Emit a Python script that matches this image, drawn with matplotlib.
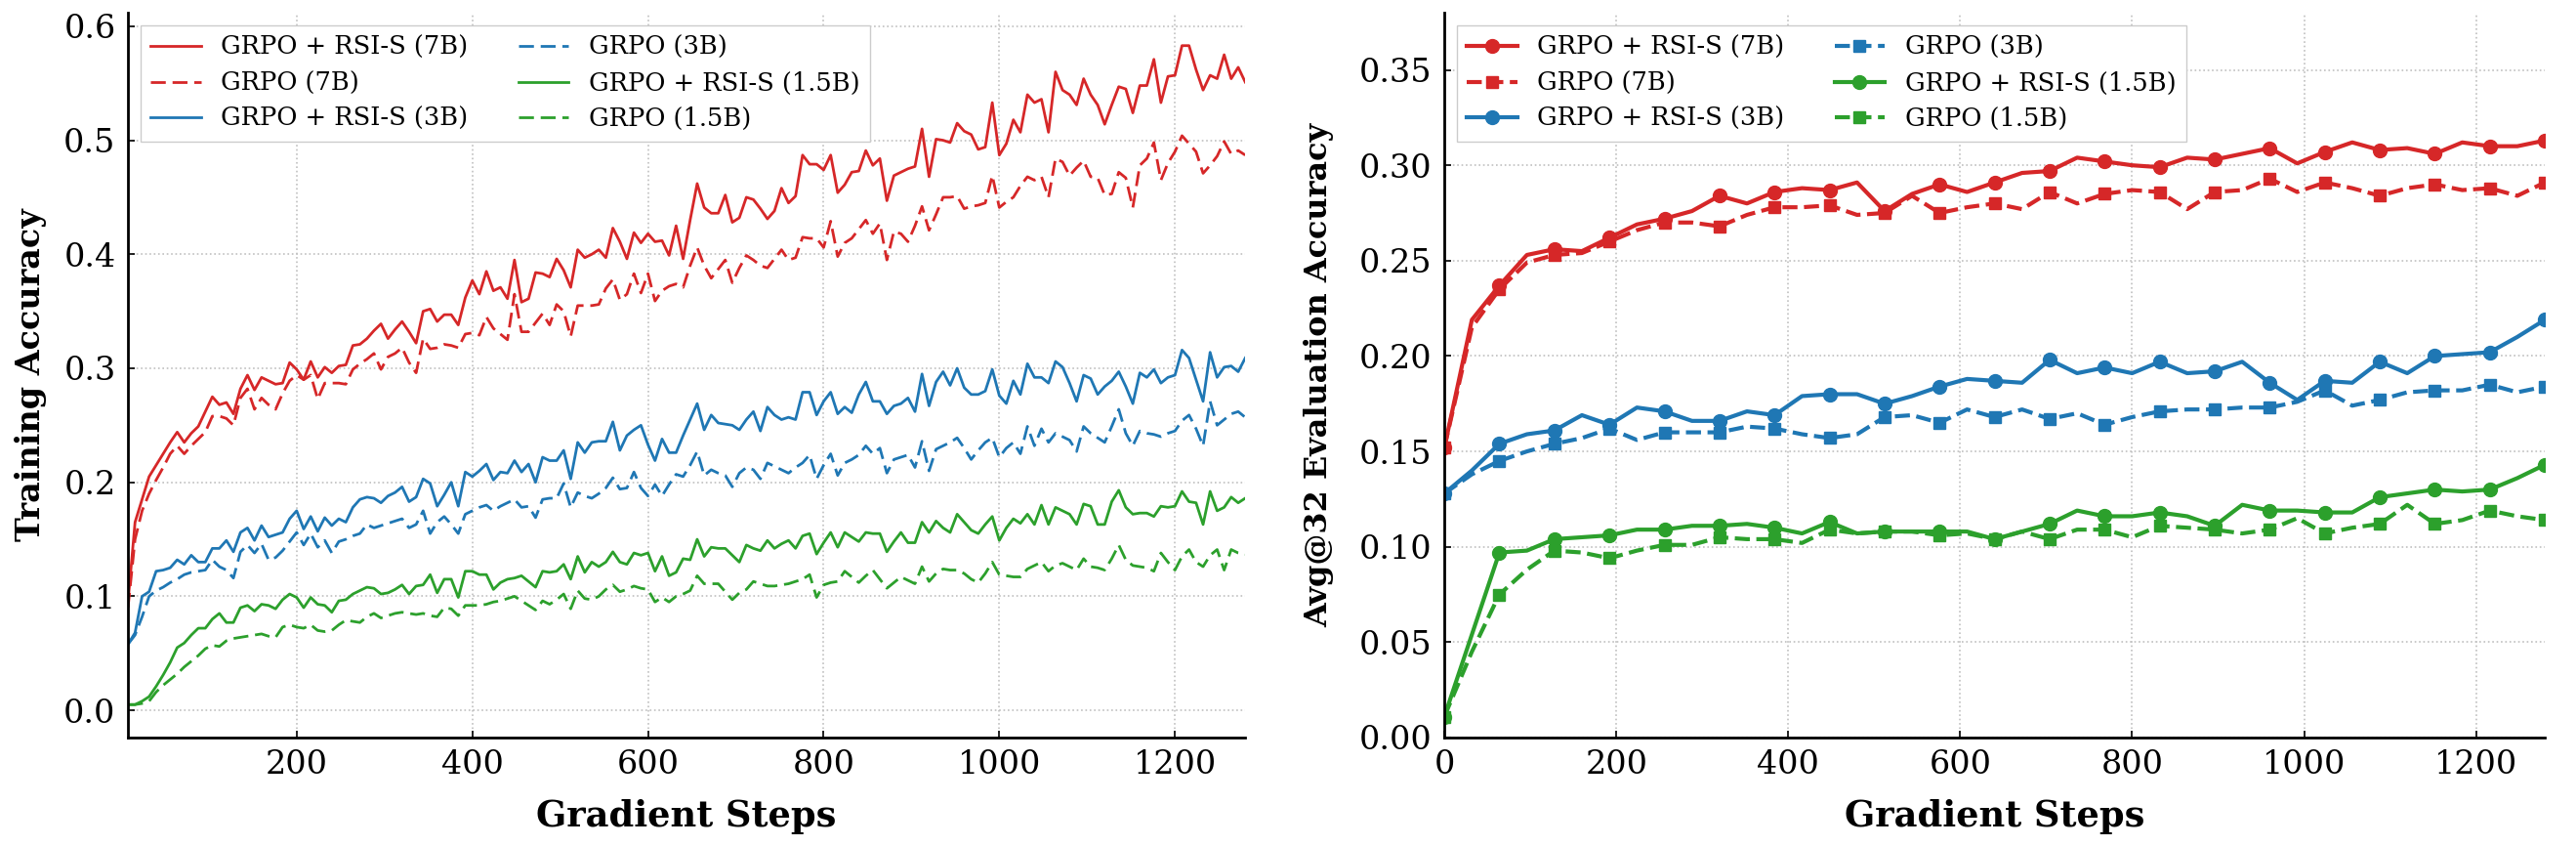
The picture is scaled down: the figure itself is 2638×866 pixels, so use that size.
import matplotlib as mpl
import matplotlib.pyplot as plt
import numpy as np

# matplotlib parameters
mpl.rcParams['font.family'] = 'DejaVu Serif'
mpl.rcParams['xtick.labelsize'] = 24
mpl.rcParams['ytick.labelsize'] = 24
mpl.rcParams['axes.labelsize'] = 23
mpl.rcParams['legend.fontsize'] = 18.5

RED, BLUE, GREEN = '#d62728', '#1f77b4', '#2ca02c'

# training accuracy, logged every 8 gradient steps (8 .. 1280)
train_steps = np.arange(8, 1281, 8)

train_rsi_7b = [
    0.095, 0.165, 0.185, 0.205, 0.215, 0.225, 0.235, 0.244, 0.235, 0.243,
    0.249, 0.262, 0.275, 0.268, 0.270, 0.260, 0.282, 0.294, 0.281, 0.292,
    0.289, 0.286, 0.287, 0.305, 0.299, 0.290, 0.306, 0.292, 0.301, 0.296,
    0.302, 0.303, 0.320, 0.321, 0.326, 0.333, 0.339, 0.326, 0.334, 0.341,
    0.332, 0.322, 0.350, 0.352, 0.341, 0.347, 0.347, 0.338, 0.362, 0.377,
    0.365, 0.385, 0.368, 0.371, 0.361, 0.395, 0.358, 0.361, 0.384, 0.383,
    0.380, 0.396, 0.386, 0.371, 0.404, 0.397, 0.400, 0.404, 0.397, 0.423,
    0.411, 0.396, 0.419, 0.410, 0.418, 0.411, 0.412, 0.399, 0.425, 0.396,
    0.430, 0.462, 0.441, 0.436, 0.436, 0.452, 0.428, 0.432, 0.450, 0.448,
    0.440, 0.431, 0.438, 0.458, 0.445, 0.451, 0.487, 0.479, 0.479, 0.474,
    0.487, 0.454, 0.461, 0.472, 0.473, 0.491, 0.478, 0.484, 0.447, 0.469,
    0.472, 0.475, 0.477, 0.510, 0.468, 0.501, 0.500, 0.498, 0.515, 0.508,
    0.505, 0.492, 0.494, 0.533, 0.487, 0.497, 0.518, 0.507, 0.540, 0.533,
    0.536, 0.507, 0.560, 0.544, 0.540, 0.531, 0.554, 0.540, 0.531, 0.514,
    0.531, 0.547, 0.545, 0.524, 0.548, 0.548, 0.571, 0.533, 0.556, 0.557,
    0.583, 0.583, 0.562, 0.544, 0.557, 0.554, 0.575, 0.554, 0.564, 0.551]

train_grpo_7b = [
    0.090, 0.150, 0.175, 0.190, 0.202, 0.213, 0.225, 0.232, 0.225, 0.232,
    0.238, 0.244, 0.258, 0.258, 0.256, 0.250, 0.274, 0.282, 0.264, 0.274,
    0.268, 0.264, 0.278, 0.289, 0.294, 0.290, 0.294, 0.273, 0.287, 0.287,
    0.287, 0.286, 0.299, 0.304, 0.308, 0.313, 0.299, 0.310, 0.313, 0.318,
    0.305, 0.296, 0.326, 0.317, 0.318, 0.321, 0.320, 0.318, 0.330, 0.331,
    0.329, 0.345, 0.335, 0.330, 0.325, 0.365, 0.332, 0.332, 0.340, 0.348,
    0.338, 0.356, 0.350, 0.328, 0.355, 0.355, 0.355, 0.356, 0.370, 0.378,
    0.360, 0.365, 0.383, 0.366, 0.383, 0.359, 0.368, 0.372, 0.374, 0.371,
    0.390, 0.406, 0.390, 0.379, 0.387, 0.395, 0.375, 0.388, 0.399, 0.395,
    0.390, 0.388, 0.396, 0.404, 0.395, 0.397, 0.415, 0.414, 0.414, 0.406,
    0.429, 0.398, 0.410, 0.414, 0.422, 0.430, 0.418, 0.427, 0.395, 0.420,
    0.418, 0.411, 0.425, 0.442, 0.421, 0.435, 0.450, 0.450, 0.451, 0.440,
    0.442, 0.443, 0.445, 0.469, 0.441, 0.446, 0.450, 0.460, 0.468, 0.465,
    0.468, 0.450, 0.484, 0.481, 0.469, 0.476, 0.482, 0.468, 0.467, 0.452,
    0.453, 0.472, 0.467, 0.441, 0.478, 0.484, 0.498, 0.465, 0.480, 0.490,
    0.504, 0.497, 0.490, 0.471, 0.478, 0.486, 0.499, 0.488, 0.491, 0.487]

train_rsi_3b = [
    0.058, 0.068, 0.100, 0.104, 0.122, 0.123, 0.125, 0.132, 0.128, 0.136,
    0.130, 0.130, 0.142, 0.142, 0.149, 0.139, 0.156, 0.160, 0.149, 0.162,
    0.152, 0.154, 0.156, 0.168, 0.175, 0.159, 0.170, 0.157, 0.169, 0.162,
    0.168, 0.165, 0.178, 0.185, 0.187, 0.186, 0.182, 0.188, 0.191, 0.196,
    0.183, 0.187, 0.203, 0.199, 0.179, 0.189, 0.200, 0.179, 0.209, 0.205,
    0.210, 0.216, 0.202, 0.209, 0.208, 0.219, 0.209, 0.216, 0.200, 0.222,
    0.219, 0.219, 0.228, 0.203, 0.235, 0.226, 0.235, 0.236, 0.236, 0.253,
    0.228, 0.241, 0.246, 0.250, 0.233, 0.219, 0.238, 0.226, 0.226, 0.241,
    0.255, 0.269, 0.246, 0.259, 0.252, 0.251, 0.250, 0.246, 0.255, 0.262,
    0.245, 0.266, 0.259, 0.255, 0.257, 0.255, 0.279, 0.279, 0.259, 0.271,
    0.279, 0.260, 0.266, 0.261, 0.277, 0.288, 0.271, 0.271, 0.260, 0.267,
    0.269, 0.274, 0.262, 0.295, 0.267, 0.288, 0.297, 0.285, 0.300, 0.283,
    0.277, 0.277, 0.280, 0.299, 0.276, 0.269, 0.289, 0.277, 0.304, 0.292,
    0.292, 0.287, 0.306, 0.301, 0.287, 0.271, 0.294, 0.291, 0.277, 0.284,
    0.289, 0.297, 0.284, 0.269, 0.296, 0.292, 0.299, 0.287, 0.292, 0.294,
    0.316, 0.309, 0.290, 0.271, 0.314, 0.292, 0.301, 0.302, 0.297, 0.309]

train_grpo_3b = [
    0.058, 0.066, 0.082, 0.100, 0.105, 0.108, 0.112, 0.115, 0.119, 0.121,
    0.122, 0.123, 0.132, 0.126, 0.123, 0.116, 0.139, 0.145, 0.138, 0.146,
    0.132, 0.134, 0.140, 0.148, 0.156, 0.145, 0.155, 0.143, 0.149, 0.138,
    0.148, 0.150, 0.153, 0.155, 0.163, 0.160, 0.162, 0.164, 0.166, 0.168,
    0.160, 0.163, 0.175, 0.155, 0.165, 0.170, 0.163, 0.155, 0.172, 0.175,
    0.178, 0.180, 0.175, 0.179, 0.182, 0.185, 0.178, 0.179, 0.169, 0.185,
    0.186, 0.186, 0.199, 0.178, 0.191, 0.188, 0.186, 0.190, 0.195, 0.204,
    0.194, 0.195, 0.209, 0.195, 0.188, 0.198, 0.188, 0.198, 0.207, 0.205,
    0.215, 0.227, 0.206, 0.211, 0.208, 0.206, 0.196, 0.208, 0.213, 0.211,
    0.203, 0.217, 0.214, 0.211, 0.208, 0.213, 0.217, 0.224, 0.203, 0.215,
    0.225, 0.206, 0.217, 0.220, 0.224, 0.232, 0.225, 0.230, 0.208, 0.220,
    0.222, 0.224, 0.213, 0.236, 0.210, 0.229, 0.232, 0.235, 0.239, 0.230,
    0.220, 0.228, 0.235, 0.239, 0.222, 0.230, 0.235, 0.225, 0.249, 0.232,
    0.247, 0.235, 0.243, 0.240, 0.237, 0.227, 0.249, 0.243, 0.239, 0.235,
    0.249, 0.264, 0.243, 0.232, 0.245, 0.243, 0.242, 0.240, 0.243, 0.245,
    0.254, 0.259, 0.247, 0.232, 0.271, 0.250, 0.255, 0.260, 0.262, 0.257]

train_rsi_15b = [
    0.005, 0.005, 0.008, 0.012, 0.021, 0.031, 0.042, 0.055, 0.059, 0.066,
    0.072, 0.072, 0.080, 0.085, 0.077, 0.077, 0.090, 0.092, 0.087, 0.093,
    0.092, 0.089, 0.097, 0.102, 0.099, 0.090, 0.099, 0.093, 0.092, 0.086,
    0.096, 0.097, 0.102, 0.105, 0.108, 0.107, 0.102, 0.103, 0.106, 0.110,
    0.102, 0.109, 0.110, 0.119, 0.103, 0.115, 0.115, 0.099, 0.122, 0.122,
    0.119, 0.119, 0.106, 0.112, 0.115, 0.116, 0.118, 0.113, 0.108, 0.122,
    0.121, 0.122, 0.128, 0.115, 0.135, 0.121, 0.130, 0.126, 0.130, 0.139,
    0.130, 0.128, 0.138, 0.136, 0.138, 0.122, 0.135, 0.118, 0.121, 0.133,
    0.132, 0.150, 0.135, 0.143, 0.142, 0.142, 0.136, 0.130, 0.145, 0.142,
    0.140, 0.149, 0.142, 0.146, 0.149, 0.142, 0.153, 0.155, 0.137, 0.147,
    0.156, 0.143, 0.156, 0.152, 0.148, 0.156, 0.155, 0.155, 0.139, 0.148,
    0.156, 0.147, 0.147, 0.165, 0.156, 0.166, 0.160, 0.156, 0.172, 0.165,
    0.158, 0.155, 0.163, 0.170, 0.149, 0.160, 0.168, 0.164, 0.172, 0.163,
    0.180, 0.163, 0.178, 0.175, 0.172, 0.163, 0.181, 0.179, 0.163, 0.163,
    0.183, 0.193, 0.178, 0.172, 0.173, 0.173, 0.170, 0.179, 0.178, 0.179,
    0.192, 0.183, 0.182, 0.163, 0.192, 0.175, 0.178, 0.187, 0.182, 0.186]

train_grpo_15b = [
    0.005, 0.005, 0.006, 0.008, 0.016, 0.022, 0.027, 0.032, 0.038, 0.043,
    0.048, 0.054, 0.057, 0.056, 0.061, 0.063, 0.064, 0.065, 0.066, 0.067,
    0.065, 0.064, 0.073, 0.075, 0.073, 0.072, 0.075, 0.070, 0.069, 0.070,
    0.075, 0.079, 0.078, 0.077, 0.082, 0.085, 0.081, 0.083, 0.085, 0.086,
    0.085, 0.084, 0.085, 0.083, 0.082, 0.090, 0.089, 0.083, 0.092, 0.092,
    0.092, 0.093, 0.095, 0.096, 0.098, 0.100, 0.096, 0.092, 0.088, 0.096,
    0.093, 0.097, 0.102, 0.089, 0.105, 0.098, 0.097, 0.100, 0.106, 0.110,
    0.104, 0.106, 0.109, 0.107, 0.106, 0.095, 0.099, 0.095, 0.100, 0.102,
    0.105, 0.118, 0.111, 0.111, 0.111, 0.104, 0.097, 0.103, 0.106, 0.113,
    0.111, 0.109, 0.109, 0.110, 0.111, 0.113, 0.115, 0.119, 0.099, 0.110,
    0.112, 0.113, 0.122, 0.117, 0.112, 0.118, 0.123, 0.115, 0.107, 0.112,
    0.117, 0.114, 0.111, 0.126, 0.113, 0.120, 0.124, 0.123, 0.123, 0.120,
    0.115, 0.112, 0.120, 0.130, 0.119, 0.118, 0.117, 0.117, 0.124, 0.127,
    0.130, 0.122, 0.127, 0.129, 0.126, 0.123, 0.133, 0.126, 0.125, 0.123,
    0.133, 0.145, 0.132, 0.127, 0.126, 0.125, 0.122, 0.138, 0.130, 0.123,
    0.135, 0.141, 0.130, 0.126, 0.136, 0.141, 0.123, 0.141, 0.138, 0.137]

# avg@32 evaluation, every 32 steps (0 .. 1280)
eval_steps = np.arange(0, 1281, 32)

eval_rsi_7b = [0.152, 0.219, 0.237, 0.253, 0.256, 0.255, 0.262, 0.269, 0.272, 0.276,
               0.284, 0.280, 0.286, 0.288, 0.287, 0.291, 0.276, 0.285, 0.290, 0.286,
               0.291, 0.296, 0.297, 0.304, 0.302, 0.300, 0.299, 0.304, 0.303, 0.306,
               0.309, 0.301, 0.307, 0.312, 0.308, 0.309, 0.306, 0.312, 0.310, 0.310,
               0.313]
eval_grpo_7b = [0.152, 0.215, 0.235, 0.249, 0.253, 0.254, 0.260, 0.266, 0.270, 0.270,
                0.268, 0.274, 0.278, 0.278, 0.279, 0.274, 0.275, 0.284, 0.275, 0.278,
                0.280, 0.277, 0.286, 0.280, 0.285, 0.287, 0.286, 0.277, 0.286, 0.287,
                0.293, 0.286, 0.291, 0.288, 0.284, 0.288, 0.290, 0.287, 0.288, 0.284,
                0.291]
eval_rsi_3b = [0.128, 0.140, 0.154, 0.159, 0.161, 0.169, 0.164, 0.173, 0.171, 0.166,
               0.166, 0.171, 0.169, 0.179, 0.180, 0.180, 0.175, 0.179, 0.184, 0.188,
               0.187, 0.186, 0.198, 0.191, 0.194, 0.191, 0.197, 0.191, 0.192, 0.197,
               0.186, 0.177, 0.187, 0.186, 0.197, 0.191, 0.200, 0.201, 0.202, 0.210,
               0.219]
eval_grpo_3b = [0.128, 0.138, 0.145, 0.150, 0.154, 0.157, 0.162, 0.156, 0.160, 0.160,
                0.160, 0.163, 0.162, 0.159, 0.157, 0.159, 0.168, 0.169, 0.165, 0.172,
                0.168, 0.172, 0.167, 0.170, 0.164, 0.168, 0.171, 0.172, 0.172, 0.173,
                0.173, 0.176, 0.182, 0.174, 0.177, 0.181, 0.182, 0.182, 0.185, 0.181,
                0.184]
eval_rsi_15b = [0.011, 0.054, 0.097, 0.098, 0.104, 0.105, 0.106, 0.109, 0.109, 0.111,
                0.111, 0.112, 0.110, 0.107, 0.113, 0.107, 0.108, 0.108, 0.108, 0.108,
                0.104, 0.108, 0.112, 0.119, 0.116, 0.116, 0.118, 0.116, 0.111, 0.122,
                0.119, 0.119, 0.118, 0.118, 0.126, 0.128, 0.130, 0.129, 0.130, 0.136,
                0.143]
eval_grpo_15b = [0.011, 0.045, 0.075, 0.088, 0.098, 0.097, 0.094, 0.098, 0.101, 0.101,
                 0.105, 0.104, 0.104, 0.102, 0.109, 0.107, 0.108, 0.108, 0.106, 0.107,
                 0.104, 0.108, 0.104, 0.109, 0.109, 0.105, 0.111, 0.110, 0.109, 0.107,
                 0.109, 0.115, 0.107, 0.110, 0.112, 0.122, 0.112, 0.114, 0.119, 0.116,
                 0.114]

labels = ['GRPO + RSI-S (7B)', 'GRPO (7B)', 'GRPO + RSI-S (3B)',
          'GRPO (3B)', 'GRPO + RSI-S (1.5B)', 'GRPO (1.5B)']
colors = [RED, RED, BLUE, BLUE, GREEN, GREEN]
solid = [True, False, True, False, True, False]
train_series = [train_rsi_7b, train_grpo_7b, train_rsi_3b,
                train_grpo_3b, train_rsi_15b, train_grpo_15b]
eval_series = [eval_rsi_7b, eval_grpo_7b, eval_rsi_3b,
               eval_grpo_3b, eval_rsi_15b, eval_grpo_15b]


def style_axes(ax):
    ax.spines['top'].set_visible(False)
    ax.spines['right'].set_visible(False)
    ax.spines['left'].set_linewidth(2)
    ax.spines['bottom'].set_linewidth(2)
    ax.tick_params(direction='in', length=5, width=1.2, pad=9)
    ax.grid(True, which='major', axis='both', linestyle=':', color='#c0c0c0', linewidth=1.2)
    ax.set_axisbelow(True)
    ax.set_xlabel('Gradient Steps', fontweight='bold', fontsize=26.5)
    ax.xaxis.set_label_coords(0.5, -0.085)


fig = plt.figure(figsize=(26.38, 8.66), dpi=100)

# left: training accuracy
ax1 = fig.add_axes([0.0497, 0.1282, 0.4337, 0.8568])
for y, c, s, lab in zip(train_series, colors, solid, labels):
    ls = '-' if s else (0, (5.5, 2.5))
    ax1.plot(train_steps, y, color=c, linestyle=ls, linewidth=2.0, label=lab)
ax1.set_xlim(8, 1280)
style_axes(ax1)
ax1.set_ylabel('Training Accuracy', fontweight='bold', fontsize=24)
ax1.yaxis.set_label_coords(-0.073, 0.5)
ax1.legend(loc='upper left', ncol=2, fancybox=False, edgecolor='#cccccc',
           framealpha=1.0, labelspacing=0.45)

# right: avg@32 evaluation accuracy
ax2 = fig.add_axes([0.5607, 0.1282, 0.4272, 0.8568])
for y, c, s, lab in zip(eval_series, colors, solid, labels):
    if s:
        ax2.plot(eval_steps, y, color=c, linestyle='-', linewidth=3.0,
                 marker='o', markersize=10, markevery=2, label=lab)
    else:
        ax2.plot(eval_steps, y, color=c, linestyle='--', linewidth=3.0,
                 marker='s', markersize=8, markevery=2, label=lab)
ax2.set_xlim(0, 1280)
ax2.set_ylim(0, 0.38)
style_axes(ax2)
ax2.set_ylabel('Avg@32 Evaluation Accuracy', fontweight='bold', fontsize=23)
ax2.yaxis.set_label_coords(-0.100, 0.5)
ax2.legend(loc='upper left', ncol=2, fancybox=False, edgecolor='#cccccc',
           framealpha=1.0, labelspacing=0.45)

fig.savefig('out.png', dpi=100)
plt.close(fig)
